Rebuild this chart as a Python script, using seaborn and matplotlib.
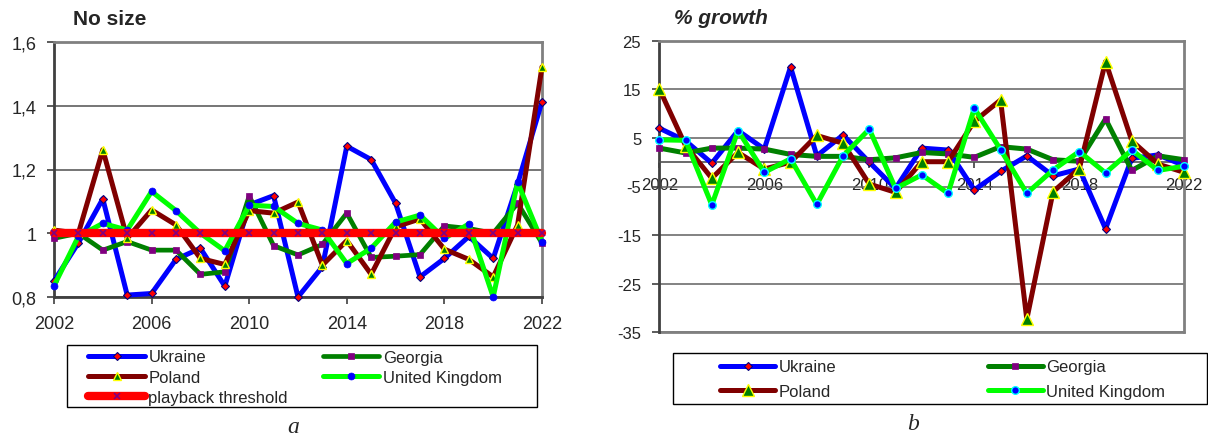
import matplotlib
matplotlib.use('Agg')
import matplotlib.pyplot as plt
from matplotlib.patches import Rectangle
import seaborn as sns

# ---------------- data ----------------
years = [2002, 2003, 2004, 2005, 2006, 2007, 2008, 2009, 2010, 2011, 2012,
         2013, 2014, 2015, 2016, 2017, 2018, 2019, 2020, 2021, 2022]

size_ukraine = [0.85, 0.97, 1.108, 0.806, 0.811, 0.918, 0.953, 0.834, 1.089, 1.118, 0.80,
                0.895, 1.273, 1.231, 1.094, 0.863, 0.921, 0.99, 0.921, 1.155, 1.413]
size_georgia = [0.984, 1.0, 0.947, 0.974, 0.947, 0.947, 0.871, 0.879, 1.117, 0.961, 0.932,
                0.965, 1.063, 0.924, 0.928, 0.933, 1.023, 1.015, 1.0, 1.094, 0.969]
size_poland = [1.01, 1.0, 1.262, 0.984, 1.073, 1.026, 0.921, 0.902, 1.071, 1.063, 1.098,
               0.90, 0.977, 0.871, 1.02, 1.045, 0.95, 0.918, 0.863, 1.026, 1.522]
size_uk = [0.835, 0.99, 1.031, 1.01, 1.131, 1.071, 1.0, 0.945, 1.088, 1.084, 1.031,
           1.01, 0.905, 0.953, 1.035, 1.057, 0.984, 1.029, 0.80, 1.16, 0.974]
size_threshold = [1.0, 1.0, 1.0, 1.0, 1.0, 1.0, 1.0, 1.0, 1.0, 1.0, 1.0,
                  1.0, 1.0, 1.0, 1.0, 1.0, 1.0, 1.0, 1.0, 1.0, 1.0]

gr_ukraine = [7.0, 4.4, -0.2, 6.5, 2.7, 19.6, 1.3, 5.6, 0.0, -5.4, 2.9,
              2.5, -5.7, -1.9, 1.3, -2.8, -1.4, -13.7, 0.8, 1.5, -0.7]
gr_georgia = [2.9, 1.9, 2.9, 2.9, 2.7, 1.6, 1.2, 1.2, 0.5, 0.9, 2.0,
              1.7, 1.0, 3.2, 2.7, 0.5, 0.2, 8.9, -1.7, 1.3, 0.5]
gr_poland = [15.1, 3.4, -3.3, 2.0, -1.4, 0.0, 5.5, 3.9, -4.5, -6.2, 0.1,
             0.1, 8.4, 12.8, -32.3, -6.1, -1.3, 20.7, 4.4, -0.4, -2.1]
gr_uk = [4.6, 4.5, -8.8, 6.5, -2.1, 0.7, -8.7, 1.3, 6.8, -5.4, -2.6,
         -6.4, 11.1, 2.6, -6.4, -1.6, 2.2, -2.2, 2.5, -1.7, -0.8]

x_ticks = [2002, 2006, 2010, 2014, 2018, 2022]
x_ticklabels = ['2002', '2006', '2010', '2014', '2018', '2022']
size_yticks = [0.8, 1.0, 1.2, 1.4, 1.6]
size_yticklabels = ['0,8', '1', '1,2', '1,4', '1,6']
gr_yticks = [-35, -25, -15, -5, 5, 15, 25]
gr_yticklabels = ['-35', '-25', '-15', '-5', '5', '15', '25']

names = ['Ukraine', 'Georgia', 'Poland', 'United Kingdom', 'playback threshold']

# ---------------- style ----------------
sns.set_style('white')
plt.rcParams['font.family'] = ['Liberation Sans', 'DejaVu Sans']

W, H = 1208, 439
fig = plt.figure(figsize=(W / 100, H / 100), dpi=100)


def fx(px):
    return px / W


def fy(py):
    return 1 - py / H


def draw(ax, y, color, lw, marker, ms, mfc, mec, mew, z):
    sns.lineplot(x=years, y=y, ax=ax, color=color, linewidth=lw, marker=marker,
                 markersize=ms, markerfacecolor=mfc, markeredgecolor=mec,
                 markeredgewidth=mew, zorder=z, legend=False, clip_on=False,
                 solid_capstyle='round', solid_joinstyle='round')
    return ax.get_lines()[-1]


# ---------------- left chart ----------------
ax1 = fig.add_axes([fx(54), fy(298), fx(488), 255 / H])
l_ukr = draw(ax1, size_ukraine, '#0000FF', 3.6, 'D', 4.5, '#FF0000', '#000080', 0.8, 3)
l_geo = draw(ax1, size_georgia, '#008000', 3.4, 's', 4.5, '#800080', '#800080', 0.5, 4)
l_pol = draw(ax1, size_poland, '#800000', 3.6, '^', 5.5, '#008000', '#FFFF00', 1.0, 5)
l_uk = draw(ax1, size_uk, '#00FF00', 3.6, 'o', 5.0, '#0000FF', '#0000FF', 0.5, 6)
l_thr = draw(ax1, size_threshold, '#FF0000', 6.0, 'x', 5.0, '#800080', '#800080', 1.2, 7)

ax1.set_xlim(2002, 2022)
ax1.set_ylim(0.8, 1.6)
ax1.set_xticks(x_ticks)
ax1.set_xticklabels(x_ticklabels)
ax1.set_yticks(size_yticks)
ax1.set_yticklabels(size_yticklabels)
ax1.set_xlabel('')
ax1.set_ylabel('')
ax1.tick_params(axis='x', direction='out', length=5, width=1.2, pad=8, labelsize=13,
                bottom=True, color='#404040')
ax1.tick_params(axis='y', direction='out', length=5, width=1.2, pad=7.5, labelsize=13,
                left=True, color='#404040')
ax1.yaxis.grid(True, color='#505050', linewidth=1.1)
ax1.set_axisbelow(True)
for s in ['left', 'bottom']:
    ax1.spines[s].set_color('#404040')
    ax1.spines[s].set_linewidth(2)
for s in ['top', 'right']:
    ax1.spines[s].set_color('#808080')
    ax1.spines[s].set_linewidth(2)

fig.text(fx(109.7), fy(19.3), 'No size', fontsize=15, fontweight='bold',
         ha='center', va='center')

leg1 = fig.legend([l_ukr, l_pol, l_thr, l_geo, l_uk],
                  [names[0], names[2], names[4], names[1], names[3]],
                  loc='upper left', bbox_to_anchor=(fx(88.3), fy(350.5)), ncol=2,
                  numpoints=1, frameon=False, borderpad=0, borderaxespad=0,
                  handlelength=3.4, handletextpad=0.2, columnspacing=2.1,
                  labelspacing=0.32, fontsize=12)
fig.add_artist(Rectangle((fx(67.3), fy(408)), (537.3 - 67.3) / W, (408 - 346) / H,
                         transform=fig.transFigure, fill=False, edgecolor='black', lw=1))
fig.text(fx(293.3), fy(428), 'a', family='Liberation Serif', style='italic',
         fontsize=17, ha='center', va='center')

# ---------------- right chart ----------------
ax2 = fig.add_axes([fx(659.3), fy(333.3), fx(525), 291.6 / H])
g_ukr = draw(ax2, gr_ukraine, '#0000FF', 3.6, 'D', 4.5, '#FF0000', '#000080', 0.8, 3)
g_geo = draw(ax2, gr_georgia, '#008000', 3.6, 's', 4.5, '#800080', '#800080', 0.5, 4)
g_pol = draw(ax2, gr_poland, '#800000', 3.6, '^', 8.0, '#008000', '#FFFF00', 1.0, 5)
g_uk = draw(ax2, gr_uk, '#00FF00', 3.6, 'o', 5.5, '#0000FF', '#00FFFF', 1.0, 6)

ax2.set_xlim(2002, 2022)
ax2.set_ylim(-35, 25)
ax2.set_xticks(x_ticks)
ax2.set_xticklabels(x_ticklabels)
ax2.set_yticks(gr_yticks)
ax2.set_yticklabels(gr_yticklabels)
ax2.set_xlabel('')
ax2.set_ylabel('')
ax2.spines['bottom'].set_position(('data', 0))
ax2.tick_params(axis='x', direction='out', length=4, width=1.2, pad=6.5, labelsize=12,
                bottom=True, color='#404040')
ax2.tick_params(axis='y', direction='out', length=5, width=1.2, pad=8, labelsize=12,
                left=True, color='#404040')
ax2.yaxis.grid(True, color='#606060', linewidth=1.1)
ax2.set_axisbelow(True)
ax2.spines['left'].set_color('#404040')
ax2.spines['left'].set_linewidth(2)
ax2.spines['bottom'].set_color('#505050')
ax2.spines['bottom'].set_linewidth(1.2)
for s in ['top', 'right']:
    ax2.spines[s].set_color('#808080')
    ax2.spines[s].set_linewidth(2)
ax2.axhline(-35, color='#808080', lw=2, zorder=1, clip_on=False)

fig.text(fx(720.6), fy(18.3), '% growth', fontsize=15, fontweight='bold', style='italic',
         ha='center', va='center')

leg2 = fig.legend([g_ukr, g_pol, g_geo, g_uk],
                  [names[0], names[2], names[1], names[3]],
                  loc='upper left', bbox_to_anchor=(fx(720), fy(360.5)), ncol=2,
                  numpoints=1, frameon=False, borderpad=0, borderaxespad=0,
                  handlelength=3.3, handletextpad=0.2, columnspacing=9.1,
                  labelspacing=0.55, fontsize=12)
fig.add_artist(Rectangle((fx(672.7), fy(405)), (1206.5 - 672.7) / W, (405 - 354.3) / H,
                         transform=fig.transFigure, fill=False, edgecolor='black', lw=1))
fig.text(fx(913.3), fy(425), 'b', family='Liberation Serif', style='italic',
         fontsize=17, ha='center', va='center')

fig.savefig('out.png', dpi=100)
